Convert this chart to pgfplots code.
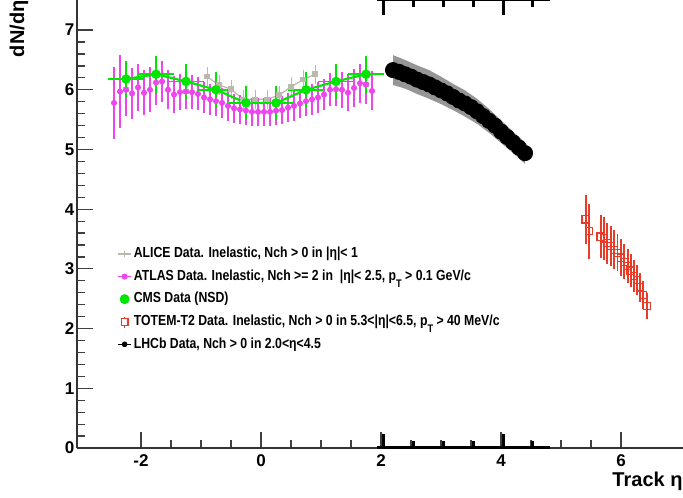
\documentclass[border=0pt]{standalone}
\usepackage{fontspec}
\setmainfont{Liberation Sans}
\newfontfamily\legfont[FakeStretch=0.84]{Liberation Sans}
\usepackage{pgfplots}
\pgfplotsset{compat=1.18}
\definecolor{alice}{RGB}{185,185,172}
\definecolor{atlas}{RGB}{238,70,238}
\definecolor{cms}{RGB}{0,230,0}
\definecolor{totem}{RGB}{232,60,40}
\definecolor{band}{RGB}{150,150,150}
\newcommand{\pT}{p\raisebox{-0.5em}{\fontsize{5.5}{6}\selectfont T}}
\begin{document}
\begin{tikzpicture}
\begin{axis}[
 width=303pt, height=224pt, scale only axis,
 xmin=-3.067, xmax=7.033, ymin=0, ymax=7.504,
 axis lines*=left, axis line style={line width=0.8pt, -, black!80},
 clip=false,
 xtick={-2,0,2,4,6}, minor x tick num=3,
 ytick={0,1,2,3,4,5,6,7}, minor y tick num=4,
 tick align=inside, major tick length=8pt, minor tick length=4pt,
 tick style={line width=0.6pt, black!75},
 /pgf/number format/assume math mode=true,
 tick label style={font=\bfseries\fontsize{8.5}{10}\selectfont},
 yticklabel style={xshift=2.2pt},
 xlabel={Track η}, ylabel={dN/dη},
 label style={font=\bfseries\fontsize{10}{12}\selectfont},
 xlabel style={at={(axis description cs:0.883,0)}, anchor=north west, yshift=-12pt, inner sep=0pt},
 ylabel style={at={(axis description cs:-0.096,1)}, anchor=east, inner sep=0pt},
 legend style={at={(axis cs:-2.40,3.42)}, anchor=north west, draw=none, fill=none,
   font=\legfont\bfseries\fontsize{7.3}{8.5}\selectfont, row sep=1.5pt, inner sep=0pt,
   cells={anchor=west}, nodes={inner xsep=1pt, inner ysep=1.5pt}},
 legend cell align=left,
 legend image code/.code={\draw[#1, mark=none] (0pt,0pt) -- (6.5pt,0pt); \path[#1] plot coordinates {(3.25pt,0pt)};},
]
% ALICE
\addplot[color=alice, line width=0.6pt, mark=square*, mark size=1.1pt,
  legend image code/.code={\draw[alice, line width=0.6pt] (0pt,0pt) -- (6.5pt,0pt); \draw[alice, line width=0.6pt] (3.25pt,-1.6pt) -- (3.25pt,1.6pt);},
  error bars/.cd, y dir=both, y explicit, error bar style={draw=alice, line width=0.5pt},
  error mark options={draw=alice, mark size=1.5pt}]
 coordinates {
 (-0.9,6.22) +- (0,0.11)
 (-0.7,6.08) +- (0,0.11)
 (-0.5,6.01) +- (0,0.11)
 (-0.3,5.84) +- (0,0.11)
 (-0.1,5.84) +- (0,0.11)
 (0.1,5.84) +- (0,0.11)
 (0.3,5.91) +- (0,0.11)
 (0.5,6.05) +- (0,0.11)
 (0.7,6.17) +- (0,0.11)
 (0.9,6.26) +- (0,0.11)
 };
\addlegendentry{ALICE Data. Inelastic, Nch > 0 in |η|< 1}
\addplot[forget plot, only marks, color=alice, mark=square*, mark size=1.1pt,
  error bars/.cd, y dir=both, y explicit, error bar style={draw=alice, line width=0.5pt},
  error mark options={draw=alice, mark size=1.5pt}]
 coordinates {
 (-2.25,6.01) +- (0,0.11)
 (-1.25,5.97) +- (0,0.11)
 (1.75,6.09) +- (0,0.11)
 };
% ATLAS
\addplot[only marks, color=atlas, mark=*, mark size=1.3pt,
  legend image code/.code={\draw[atlas, line width=0.6pt] (0pt,0pt) -- (6.5pt,0pt); \fill[atlas] (3.25pt,0pt) circle (1.3pt);},
  error bars/.cd, y dir=both, y explicit, error bar style={draw=atlas, line width=0.6pt},
  error mark options={draw=atlas, mark size=1.4pt, line width=0.6pt}]
 coordinates {
 (-2.45,5.78) +- (0,0.55)
 (-2.35,5.97) +- (0,0.57)
 (-2.25,6.00) +- (0,0.40)
 (-2.15,5.94) +- (0,0.38)
 (-2.05,6.04) +- (0,0.35)
 (-1.95,5.95) +- (0,0.33)
 (-1.85,6.00) +- (0,0.33)
 (-1.75,6.12) +- (0,0.32)
 (-1.65,6.14) +- (0,0.30)
 (-1.55,6.00) +- (0,0.28)
 (-1.45,5.92) +- (0,0.27)
 (-1.35,5.96) +- (0,0.26)
 (-1.25,5.97) +- (0,0.25)
 (-1.15,5.96) +- (0,0.24)
 (-1.05,5.93) +- (0,0.23)
 (-0.95,5.87) +- (0,0.22)
 (-0.85,5.84) +- (0,0.21)
 (-0.75,5.81) +- (0,0.20)
 (-0.65,5.78) +- (0,0.20)
 (-0.55,5.73) +- (0,0.20)
 (-0.45,5.69) +- (0,0.20)
 (-0.35,5.67) +- (0,0.19)
 (-0.25,5.65) +- (0,0.19)
 (-0.15,5.63) +- (0,0.19)
 (-0.05,5.63) +- (0,0.19)
 (0.05,5.63) +- (0,0.19)
 (0.15,5.63) +- (0,0.19)
 (0.25,5.65) +- (0,0.19)
 (0.35,5.66) +- (0,0.19)
 (0.45,5.70) +- (0,0.20)
 (0.55,5.73) +- (0,0.20)
 (0.65,5.77) +- (0,0.20)
 (0.75,5.81) +- (0,0.20)
 (0.85,5.84) +- (0,0.21)
 (0.95,5.87) +- (0,0.21)
 (1.05,5.92) +- (0,0.22)
 (1.15,6.00) +- (0,0.23)
 (1.25,6.01) +- (0,0.24)
 (1.35,6.00) +- (0,0.25)
 (1.45,5.95) +- (0,0.26)
 (1.55,6.03) +- (0,0.27)
 (1.65,6.11) +- (0,0.28)
 (1.75,6.09) +- (0,0.28)
 (1.85,5.98) +- (0,0.28)
 };
\addlegendentry{ATLAS Data. Inelastic, Nch >= 2 in \ |η|< 2.5, \pT\ > 0.1 GeV/c}
% CMS
\addplot[color=cms, line width=1.1pt, mark=*, mark size=1.8pt,
  legend image code/.code={\fill[cms] (3.25pt,0pt) circle (1.9pt); \draw[cms, line width=0.8pt] (1pt,0pt) -- (5.5pt,0pt);},
  error bars/.cd, y dir=both, y explicit, x dir=both, x explicit,
  error bar style={draw=cms, line width=0.9pt},
  error mark options={draw=cms, mark size=1.5pt, line width=0.9pt}]
 coordinates {
 (-2.25,6.18) +- (0.25,0.25)
 (-1.75,6.26) +- (0.25,0.26)
 (-1.25,6.14) +- (0.25,0.25)
 (-0.75,6.00) +- (0.25,0.25)
 (-0.25,5.78) +- (0.25,0.23)
 (0.25,5.78) +- (0.25,0.23)
 (0.75,6.00) +- (0.25,0.25)
 (1.25,6.14) +- (0.25,0.25)
 (1.75,6.26) +- (0.25,0.26)
 };
\addlegendentry{CMS Data (NSD)}
% TOTEM
\addplot[only marks, color=totem, draw=totem, mark=square, mark size=1.8pt,
  mark options={draw=totem, fill=white, line width=0.6pt},
  legend image code/.code={\draw[totem, line width=0.7pt] (3.25pt,-3.2pt) -- (3.25pt,2.6pt); \draw[totem, line width=0.6pt, fill=white] (1.55pt,-1.7pt) rectangle (4.95pt,1.7pt);},
  error bars/.cd, y dir=both, y explicit, error bar style={draw=totem, line width=0.9pt},
  error mark options={draw=totem, mark size=1.3pt, line width=0.9pt}]
 coordinates {
 (5.41,3.83) +- (0,0.37)
 (5.47,3.63) +- (0,0.42)
 (5.66,3.54) +- (0,0.32)
 (5.72,3.51) +- (0,0.31)
 (5.77,3.43) +- (0,0.30)
 (5.83,3.38) +- (0,0.29)
 (5.88,3.32) +- (0,0.28)
 (5.94,3.27) +- (0,0.27)
 (6.00,3.19) +- (0,0.26)
 (6.05,3.12) +- (0,0.25)
 (6.11,3.05) +- (0,0.24)
 (6.16,2.97) +- (0,0.23)
 (6.22,2.88) +- (0,0.22)
 (6.27,2.81) +- (0,0.21)
 (6.32,2.69) +- (0,0.20)
 (6.37,2.56) +- (0,0.19)
 (6.43,2.38) +- (0,0.18)
 };
\addlegendentry{TOTEM-T2 Data. Inelastic, Nch > 0 in 5.3<|η|<6.5, \pT\ > 40 MeV/c}
% LHCb band
\addplot[forget plot, fill=band, draw=none] coordinates {
 (2.2,6.58) (2.4,6.50) (2.6,6.41) (2.8,6.33) (3.0,6.22) (3.2,6.10) (3.4,5.99)
 (3.6,5.85) (3.8,5.68) (4.0,5.49) (4.2,5.30) (4.4,5.12)
 (4.4,4.76) (4.2,4.94) (4.0,5.11) (3.8,5.28) (3.6,5.43) (3.4,5.55) (3.2,5.66)
 (3.0,5.76) (2.8,5.85) (2.6,5.93) (2.4,6.02) (2.2,6.08)
} -- cycle;
% LHCb
\addplot[only marks, black, mark=*, mark size=3.8pt,
  legend image code/.code={\draw[black, line width=0.7pt] (0pt,0pt) -- (6.5pt,0pt); \fill[black] (3.25pt,0pt) circle (1.2pt);}]
 coordinates {
 (2.2,6.33) (2.3,6.30) (2.4,6.26) (2.5,6.22) (2.6,6.17) (2.7,6.13) (2.8,6.09)
 (2.9,6.04) (3.0,5.99) (3.1,5.94) (3.2,5.88) (3.3,5.82) (3.4,5.77) (3.5,5.71)
 (3.6,5.64) (3.7,5.56) (3.8,5.48) (3.9,5.40) (4.0,5.30) (4.1,5.21) (4.2,5.12)
 (4.3,5.03) (4.4,4.94)
 };
\addlegendentry{LHCb Data, Nch > 0 in 2.0<η<4.5}
% LHCb frame
\draw[line width=1.5pt] (axis cs:1.93,0) -- (axis cs:4.82,0);
\draw[line width=1.5pt] (axis cs:1.93,7.504) -- (axis cs:4.82,7.504);
\draw[line width=1.5pt] (axis cs:2.04,0) -- (axis cs:2.04,0.24);
\draw[line width=1.5pt] (axis cs:4.04,0) -- (axis cs:4.04,0.24);
\draw[line width=1.5pt] (axis cs:2.54,0) -- (axis cs:2.54,0.12);
\draw[line width=1.5pt] (axis cs:3.04,0) -- (axis cs:3.04,0.12);
\draw[line width=1.5pt] (axis cs:3.54,0) -- (axis cs:3.54,0.12);
\draw[line width=1.5pt] (axis cs:4.53,0) -- (axis cs:4.53,0.12);
\draw[line width=1.5pt] (axis cs:2.04,7.504) -- (axis cs:2.04,7.25);
\draw[line width=1.5pt] (axis cs:4.04,7.504) -- (axis cs:4.04,7.25);
\draw[line width=1.5pt] (axis cs:2.54,7.504) -- (axis cs:2.54,7.38);
\draw[line width=1.5pt] (axis cs:3.04,7.504) -- (axis cs:3.04,7.38);
\draw[line width=1.5pt] (axis cs:3.54,7.504) -- (axis cs:3.54,7.38);
\draw[line width=1.5pt] (axis cs:4.53,7.504) -- (axis cs:4.53,7.38);
\end{axis}
\pgfresetboundingbox
\path (current axis.south west) ++(-38.5pt,-25pt) rectangle (current axis.north east);
\end{tikzpicture}
\end{document}
